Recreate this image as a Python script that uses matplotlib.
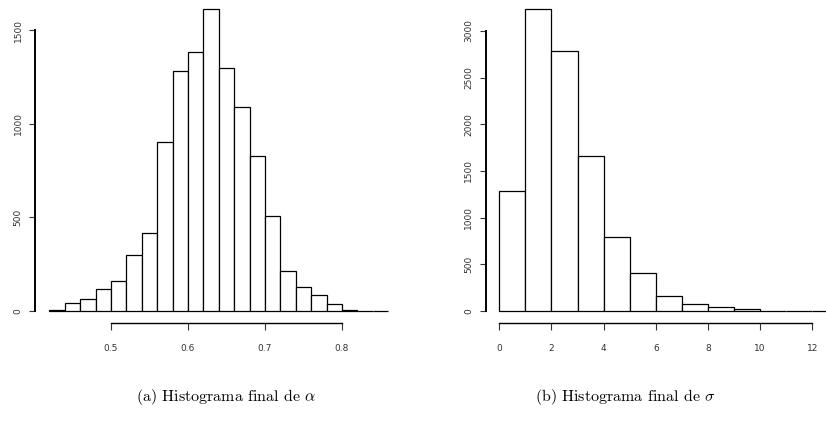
import numpy as np
import matplotlib
matplotlib.use("Agg")
import matplotlib.pyplot as plt

# alpha histogram, bins of width 0.02 starting at 0.42
alpha_edges = np.round(np.arange(0.42, 0.861, 0.02), 2)
alpha_counts = [3, 44, 64, 117, 160, 300, 415, 904, 1282, 1383, 1611, 1300,
                1091, 830, 507, 215, 130, 87, 37, 4, 2, 1]
alpha_xticks = [0.5, 0.6, 0.7, 0.8]
alpha_yticks = [0, 500, 1000, 1500]

# sigma histogram, bins of width 1 starting at 0
sigma_edges = np.arange(0, 14, 1)
sigma_counts = [1290, 3230, 2785, 1663, 790, 410, 164, 75, 39, 21, 4, 2, 1]
sigma_xticks = [0, 2, 4, 6, 8, 10, 12]
sigma_yticks = [0, 500, 1000, 1500, 2000, 2500, 3000]

captions = [r"(a) Histograma final de $\alpha$", r"(b) Histograma final de $\sigma$"]

plt.rcParams["mathtext.fontset"] = "cm"

W, H = 826, 430
fig = plt.figure(figsize=(W / 100, H / 100), dpi=100)


def px_axes(x0, x1, ytop, ybot):
    return fig.add_axes([x0 / W, (H - ybot) / H, (x1 - x0) / W, (ybot - ytop) / H])


def r_style(ax, xticks, yticks, left_out, bottom_out):
    for s in ["top", "right"]:
        ax.spines[s].set_visible(False)
    ax.spines["left"].set_position(("outward", left_out))
    ax.spines["bottom"].set_position(("outward", bottom_out))
    ax.spines["left"].set_bounds(yticks[0], yticks[-1])
    ax.spines["bottom"].set_bounds(xticks[0], xticks[-1])
    ax.spines["left"].set_linewidth(1.4)
    ax.spines["bottom"].set_linewidth(1.0)
    ax.set_xticks(xticks)
    ax.set_yticks(yticks)
    ax.set_xticklabels([str(t) for t in xticks])
    ax.set_yticklabels([str(t) for t in yticks], rotation=90, va="center")
    ax.tick_params(axis="x", length=5, width=0.8, pad=10, labelsize=6.5, colors="#333333")
    ax.tick_params(axis="y", length=4, width=0.8, pad=5, labelsize=6.5, colors="#333333")
    ax.set_facecolor("none")


# left panel
ax1 = px_axes(41.7, 395.9, 2.1, 314.7)
ax1.bar(alpha_edges[:-1], alpha_counts, width=0.02, align="edge",
        facecolor="white", edgecolor="black", linewidth=0.9)
ax1.set_xlim(0.41, 0.87)
ax1.set_ylim(-20, 1650)
r_style(ax1, alpha_xticks, alpha_yticks, 4.8, 6)

# right panel
ax2 = px_axes(491.5, 830.5, 2.8, 314.7)
ax2.bar(sigma_edges[:-1], sigma_counts, width=1, align="edge",
        facecolor="white", edgecolor="black", linewidth=0.9, clip_on=False)
ax2.set_xlim(-0.3, 12.7)
ax2.set_ylim(-40, 3300)
r_style(ax2, sigma_xticks, sigma_yticks, 4, 6)

fig.text(226 / W, 1 - 397 / H, captions[0], family="cmr10", fontsize=11.5,
         ha="center", va="center")
fig.text(625 / W, 1 - 397 / H, captions[1], family="cmr10", fontsize=11.5,
         ha="center", va="center")

fig.savefig("out.png", dpi=100)
